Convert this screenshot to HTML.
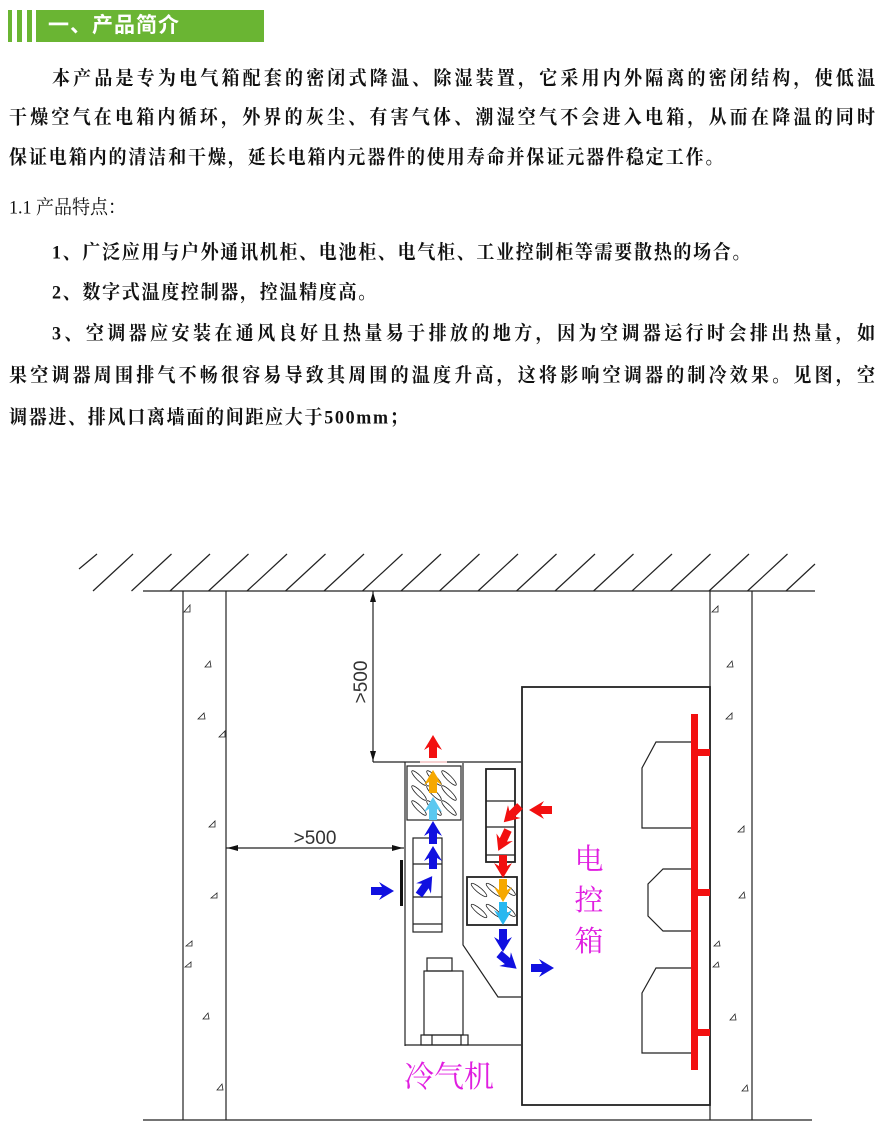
<!DOCTYPE html>
<html><head><meta charset="utf-8"><style>
html,body{margin:0;padding:0;background:#fff;}
body{width:886px;height:1142px;position:relative;overflow:hidden;}
.t{position:absolute;font-family:"Liberation Serif","Noto Serif CJK SC",serif;font-weight:bold;font-size:18px;color:#111;white-space:nowrap;line-height:20px;transform:scaleY(1.08);transform-origin:0 50%;}
.j{text-align:justify;text-align-last:justify;white-space:normal;}
.bar{position:absolute;top:10px;height:32px;background:#6ab533;}
</style></head><body>
<div class="bar" style="left:8px;width:4px"></div>
<div class="bar" style="left:17px;width:5px"></div>
<div class="bar" style="left:27px;width:5px"></div>
<div class="bar" style="left:36px;width:228px"></div>
<div style="position:absolute;left:48px;top:11px;font-family:'Liberation Sans','Noto Sans CJK SC',sans-serif;font-weight:bold;font-size:21px;color:#fff;line-height:30px;letter-spacing:1px">一、产品简介</div>

<div class="t j" style="left:52px;top:68px;width:823px">本产品是专为电气箱配套的密闭式降温、除湿装置，它采用内外隔离的密闭结构，使低温</div>
<div class="t j" style="left:9px;top:107px;width:866px">干燥空气在电箱内循环，外界的灰尘、有害气体、潮湿空气不会进入电箱，从而在降温的同时</div>
<div class="t" style="left:9px;top:147px;letter-spacing:1.9px">保证电箱内的清洁和干燥，延长电箱内元器件的使用寿命并保证元器件稳定工作。</div>
<div class="t" style="left:9px;top:197px;font-weight:normal">1.1 产品特点：</div>
<div class="t" style="left:52px;top:242px;letter-spacing:1.7px">1、广泛应用与户外通讯机柜、电池柜、电气柜、工业控制柜等需要散热的场合。</div>
<div class="t" style="left:52px;top:282px;letter-spacing:1.7px">2、数字式温度控制器，控温精度高。</div>
<div class="t j" style="left:52px;top:323px;width:823px">3、空调器应安装在通风良好且热量易于排放的地方，因为空调器运行时会排出热量，如</div>
<div class="t j" style="left:9px;top:365px;width:866px">果空调器周围排气不畅很容易导致其周围的温度升高，这将影响空调器的制冷效果。见图，空</div>
<div class="t" style="left:9px;top:407px;letter-spacing:1.7px">调器进、排风口离墙面的间距应大于500mm；</div>

<svg width="886" height="1142" style="position:absolute;left:0;top:0" xmlns="http://www.w3.org/2000/svg">
<defs>
<polygon id="ar" points="0,-4 11,-4 8,-9 23,0 8,9 11,4 0,4"/>
</defs>
<g stroke="#222" stroke-width="1.2" fill="none">
<line x1="79" y1="569" x2="97" y2="554"/>
<g id="h">
<line x1="93" y1="591" x2="133" y2="554"/><line x1="131.5" y1="591" x2="171.5" y2="554"/><line x1="170" y1="591" x2="210" y2="554"/><line x1="208.5" y1="591" x2="248.5" y2="554"/><line x1="247" y1="591" x2="287" y2="554"/><line x1="285.5" y1="591" x2="325.5" y2="554"/><line x1="324" y1="591" x2="364" y2="554"/><line x1="362.5" y1="591" x2="402.5" y2="554"/><line x1="401" y1="591" x2="441" y2="554"/><line x1="439.5" y1="591" x2="479.5" y2="554"/><line x1="478" y1="591" x2="518" y2="554"/><line x1="516.5" y1="591" x2="556.5" y2="554"/><line x1="555" y1="591" x2="595" y2="554"/><line x1="593.5" y1="591" x2="633.5" y2="554"/><line x1="632" y1="591" x2="672" y2="554"/><line x1="670.5" y1="591" x2="710.5" y2="554"/><line x1="709" y1="591" x2="749" y2="554"/><line x1="747.5" y1="591" x2="787.5" y2="554"/><line x1="786" y1="591" x2="815" y2="564"/>
</g>
<line x1="143" y1="591" x2="815" y2="591"/>
<line x1="183" y1="591" x2="183" y2="1120"/><line x1="226" y1="591" x2="226" y2="1120"/>
<line x1="710" y1="591" x2="710" y2="1120"/><line x1="752" y1="591" x2="752" y2="1120"/>
<line x1="143" y1="1120" x2="812" y2="1120"/>
<line x1="373" y1="591" x2="373" y2="762"/><line x1="373" y1="762" x2="405" y2="762"/>
<line x1="226" y1="848" x2="404" y2="848"/>
<rect x="522" y="687" width="188" height="418" stroke-width="1.8"/>
<line x1="405" y1="762" x2="420" y2="762"/><line x1="447" y1="762" x2="521" y2="762"/>
<line x1="405" y1="762" x2="405" y2="1046"/><line x1="405" y1="1045" x2="521" y2="1045"/>
<polyline points="463,763 463,945 498,997 521,997"/>
<rect x="407" y="766" width="54" height="54"/>
<rect x="413" y="838" width="29" height="94"/>
<line x1="413" y1="864" x2="442" y2="864"/><line x1="413" y1="897" x2="442" y2="897"/><line x1="413" y1="924" x2="442" y2="924"/>
<rect x="486" y="769" width="29" height="93" stroke-width="1.8"/>
<line x1="486" y1="801" x2="515" y2="801"/><line x1="486" y1="827" x2="515" y2="827"/><line x1="486" y1="855" x2="515" y2="855"/>
<rect x="467" y="877" width="50" height="48" stroke-width="1.8"/>
<rect x="427" y="958" width="25" height="13"/><rect x="424" y="971" width="39" height="64"/>
<rect x="421" y="1035" width="47" height="10"/><line x1="432" y1="1035" x2="432" y2="1045"/><line x1="461" y1="1035" x2="461" y2="1045"/>
<polyline points="691,742 656,742 642,768 642,828 691,828"/>
<polyline points="691,869 663,869 648,884 648,916 663,931 691,931"/>
<polyline points="691,968 656,968 642,993 642,1053 691,1053"/>
<g stroke-width="0.8">
<ellipse cx="419" cy="778" rx="10" ry="2.5" transform="rotate(45 419 778)"/><ellipse cx="434" cy="778" rx="10" ry="2.5" transform="rotate(45 434 778)"/><ellipse cx="449" cy="778" rx="10" ry="2.5" transform="rotate(45 449 778)"/>
<ellipse cx="419" cy="793" rx="10" ry="2.5" transform="rotate(45 419 793)"/><ellipse cx="434" cy="793" rx="10" ry="2.5" transform="rotate(45 434 793)"/><ellipse cx="449" cy="793" rx="10" ry="2.5" transform="rotate(45 449 793)"/>
<ellipse cx="419" cy="808" rx="10" ry="2.5" transform="rotate(45 419 808)"/><ellipse cx="434" cy="808" rx="10" ry="2.5" transform="rotate(45 434 808)"/><ellipse cx="449" cy="808" rx="10" ry="2.5" transform="rotate(45 449 808)"/>
<ellipse cx="479" cy="890" rx="10" ry="2.5" transform="rotate(40 479 890)"/><ellipse cx="494" cy="890" rx="10" ry="2.5" transform="rotate(40 494 890)"/><ellipse cx="509" cy="890" rx="8" ry="2.5" transform="rotate(40 509 890)"/>
<ellipse cx="479" cy="911" rx="10" ry="2.5" transform="rotate(40 479 911)"/><ellipse cx="494" cy="911" rx="10" ry="2.5" transform="rotate(40 494 911)"/><ellipse cx="509" cy="911" rx="8" ry="2.5" transform="rotate(40 509 911)"/>
</g>
<g stroke-width="0.8">
<polygon points="184,612 190,605 190,612"/><polygon points="205,667 210,661 211,667"/><polygon points="198,719 204,713 205,719"/><polygon points="219,737 225,731 225,737"/>
<polygon points="209,827 215,821 215,827"/><polygon points="211,898 217,893 217,898"/><polygon points="186,946 192,941 192,946"/><polygon points="185,967 191,962 191,967"/><polygon points="203,1019 208,1013 209,1019"/><polygon points="217,1090 222,1084 223,1090"/>
<polygon points="712,612 718,606 718,612"/><polygon points="727,667 732,661 733,667"/><polygon points="726,719 732,713 732,719"/><polygon points="738,832 744,826 744,832"/>
<polygon points="739,898 744,892 745,898"/><polygon points="714,946 719,941 720,946"/><polygon points="713,967 718,962 719,967"/><polygon points="730,1020 735,1014 736,1020"/><polygon points="742,1091 747,1085 748,1091"/>
</g>
</g>
<g fill="#111">
<polygon points="373,592 370,602 376,602"/><polygon points="373,761 370,751 376,751"/>
<polygon points="227,848 238,845 238,851"/><polygon points="403,848 392,845 392,851"/>
</g>
<text x="0" y="0" transform="translate(367,682) rotate(-90)" text-anchor="middle" font-family="Liberation Sans,sans-serif" font-size="19" fill="#333">&gt;500</text>
<text x="315" y="844" text-anchor="middle" font-family="Liberation Sans,sans-serif" font-size="19" fill="#333">&gt;500</text>
<line x1="420" y1="762" x2="447" y2="762" stroke="#f3c0c0" stroke-width="1.5"/>
<rect x="400" y="860" width="3" height="46" fill="#111"/>
<g fill="#f21010">
<rect x="691" y="714" width="7" height="356"/>
<rect x="698" y="749" width="12" height="7"/><rect x="698" y="889" width="12" height="7"/><rect x="698" y="1029" width="12" height="7"/>
</g>
<use href="#ar" fill="#f21010" transform="translate(433,758) rotate(-90)"/>
<use href="#ar" fill="#f6a800" transform="translate(433,793) rotate(-90)"/>
<use href="#ar" fill="#5cc8f0" transform="translate(433,820) rotate(-90)"/>
<use href="#ar" fill="#1010e0" transform="translate(433,844) rotate(-90)"/>
<use href="#ar" fill="#1010e0" transform="translate(433,869) rotate(-90)"/>
<use href="#ar" fill="#1010e0" transform="translate(419,895) rotate(-55)"/>
<use href="#ar" fill="#1010e0" transform="translate(371,891)"/>
<use href="#ar" fill="#f21010" transform="translate(552,810) rotate(180)"/>
<use href="#ar" fill="#f21010" transform="translate(520,806) rotate(135)"/>
<use href="#ar" fill="#f21010" transform="translate(508,830) rotate(115)"/>
<use href="#ar" fill="#f21010" transform="translate(503,855) rotate(90)"/>
<use href="#ar" fill="#f6a800" transform="translate(503,879) rotate(90)"/>
<use href="#ar" fill="#29b8f0" transform="translate(503,902) rotate(90)"/>
<use href="#ar" fill="#1010e0" transform="translate(503,929) rotate(90)"/>
<use href="#ar" fill="#1010e0" transform="translate(499,954) rotate(40)"/>
<use href="#ar" fill="#1010e0" transform="translate(531,968)"/>
<g font-family="Liberation Serif,Noto Serif CJK SC,serif" fill="#e01ee0" font-size="29">
<text x="589" y="869" text-anchor="middle">电</text>
<text x="589" y="910" text-anchor="middle">控</text>
<text x="589" y="951" text-anchor="middle">箱</text>
<text x="449" y="1087" text-anchor="middle" font-size="30">冷气机</text>
</g>
</svg>
</body></html>
